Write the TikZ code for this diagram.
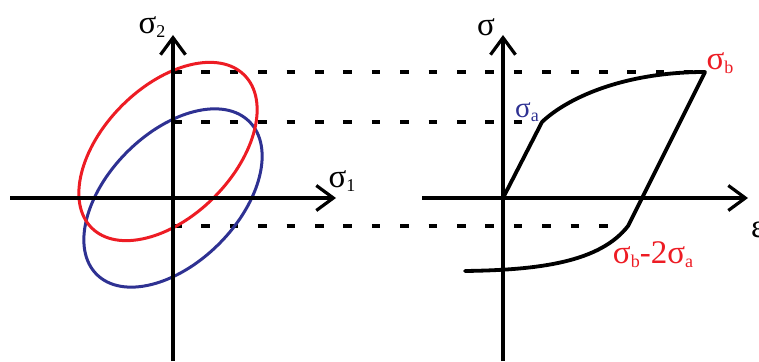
\documentclass[tikz,border=0pt]{standalone}
\usepackage{fontspec}
\setmainfont{Liberation Serif}
\usetikzlibrary{arrows.meta}
\definecolor{lred}{RGB}{237,28,36}
\definecolor{lblue}{RGB}{46,49,146}
\newcommand{\sgsub}[1]{σ\raisebox{-4pt}{\fontsize{18}{18}\selectfont #1}}

\begin{document}
\begin{tikzpicture}[x=1pt, y=1pt, font=\fontsize{33}{33}\selectfont,
  axis/.style={line width=3.2pt, -{Straight Barb[length=17pt, width=25pt, line width=3.2pt]}},
  ell/.style={line width=3pt, draw=#1},
  dsh/.style={line width=3.5pt, dash pattern=on 8.5pt off 19.9pt},
  crv/.style={line width=3.8pt, line join=round, line cap=round}]
\useasboundingbox (0,0) rectangle (759,361);
\coordinate (O1) at (173,163); \coordinate (O2) at (503,163);
\coordinate (sa) at (542,239); \coordinate (sb) at (705,289);
\coordinate (sc) at (628,135); \coordinate (se) at (465,90);
% dashed links
\draw[dsh] (O1 |- sb) -- (sb);
\draw[dsh] (O1 |- sa) -- (sa);
\draw[dsh] (O1 |- sc) -- (sc);
% left: yield surfaces
\draw[ell=lblue, shift={(O1)}, rotate=45] (0,0) ellipse (108pt and 65pt);
\draw[ell=lred, shift={(168,209.5)}, rotate=45] (0,0) ellipse (108pt and 65pt);
\draw[axis] (O1 |- 0,0) -- (173,326);
\draw[axis] (10,163) -- (336,163);
\node (sig2) at (152,334) {\sgsub{2}};
\node (sig1) at (342,180) {\sgsub{1}};
% right: stress-strain
\draw[axis] (O2 |- 0,0) -- (503,326);
\draw[axis] (422,163) -- (748,163);
\draw[crv] (O2) -- (sa) .. controls (565,261) and (620,289) .. (sb) -- (sc)
  .. controls (600,99) and (540,91) .. (se);
\node (sigma) at (486,334) {σ};
\node[anchor=west, inner sep=0pt] (eps) at (751,131) {ε};
\node[text=lblue, font=\fontsize{29}{29}\selectfont] (siga) at (527,249) {\sgsub{a}};
\node[text=lred] (sigb) at (720,298) {\sgsub{b}};
\node[text=lred] (sigba) at (653,106) {\sgsub{b}-2\sgsub{a}};
\end{tikzpicture}
\end{document}
